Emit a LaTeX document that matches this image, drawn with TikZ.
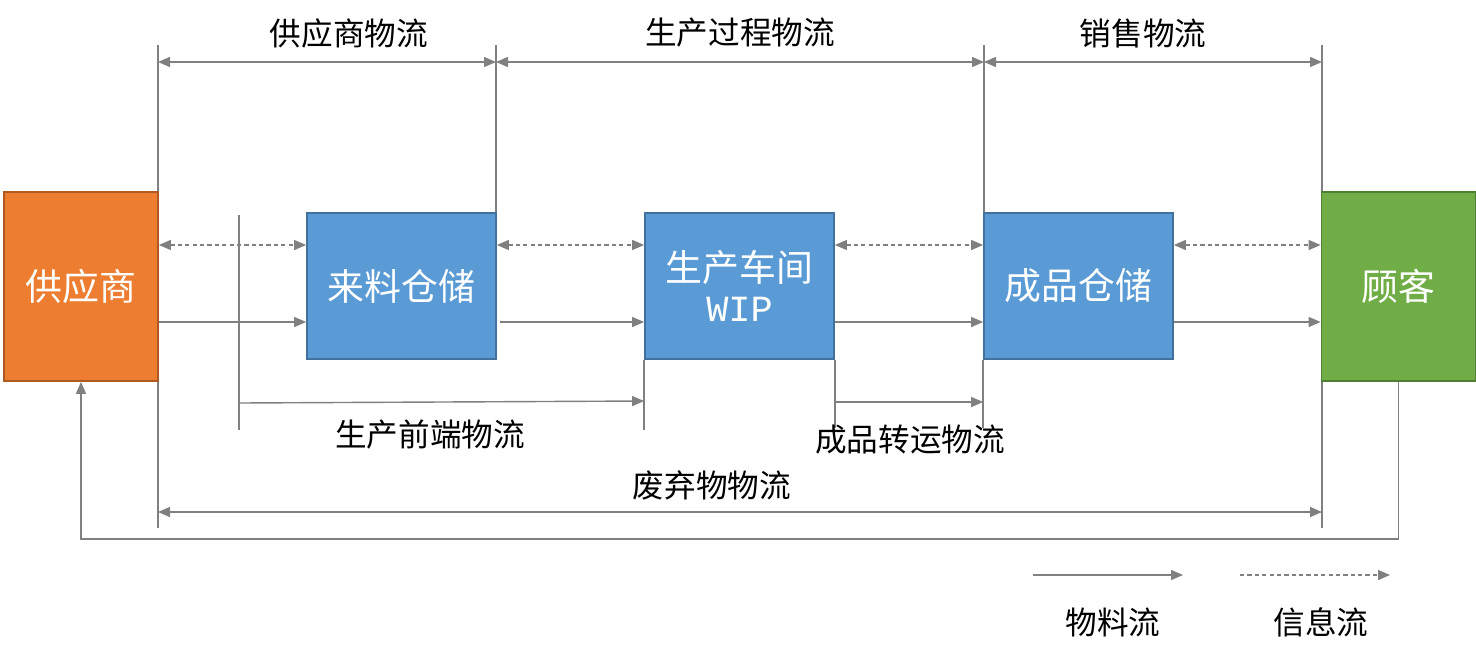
\documentclass[tikz,border=0pt]{standalone}
\usepackage{fontspec}
\newfontfamily\cjk{Noto Sans CJK SC}
\newfontfamily\latinmono{Liberation Mono}
\usetikzlibrary{arrows.meta,calc}
\definecolor{linegray}{HTML}{808080}
\definecolor{suporange}{HTML}{ED7D31}
\definecolor{supedge}{HTML}{AE5A21}
\definecolor{boxblue}{HTML}{5B9BD5}
\definecolor{boxedge}{HTML}{41719C}
\definecolor{custgreen}{HTML}{70AD47}
\definecolor{custedge}{HTML}{507E32}
\tikzset{
    endbox/.style={draw, line width=1pt, minimum width=3.08cm, minimum height=3.78cm,
        text=white, font=\cjk\fontsize{21}{25}\selectfont, inner sep=0pt},
    storebox/.style={draw=boxedge, fill=boxblue, line width=1pt, minimum width=3.78cm,
        minimum height=2.92cm, text=white, align=center,
        font=\cjk\fontsize{21}{25}\selectfont, inner sep=0pt},
    flowlabel/.style={font=\cjk\fontsize{18}{20}\selectfont, text=black},
    bar/.style={draw=linegray, line width=0.8pt},
    flow/.style={bar, -{Triangle[length=0.24cm, width=0.2cm]}},
    span/.style={bar, {Triangle[length=0.24cm, width=0.2cm]}-{Triangle[length=0.24cm, width=0.2cm]}},
    info/.style={span, dash pattern=on 2.4pt off 1.8pt},
    infoone/.style={flow, dash pattern=on 2.4pt off 1.8pt}
}

\begin{document}
\begin{tikzpicture}[x=0.02cm, y=-0.02cm]
\useasboundingbox (0,0) rectangle (1476,660);

% main chain
\node[endbox, fill=suporange, draw=supedge] (supplier) at (81,286.5) {供应商};
\node[storebox] (rawwh) at (401.5,286) {来料仓储};
\node[storebox] (wip) at (739.5,286) {生产车间\\[-2pt]{\latinmono WIP}};
\node[storebox] (fgwh) at (1078.5,286) {成品仓储};
\node[endbox, fill=custgreen, draw=custedge] (customer) at (1398.5,286.5) {顾客};

% section marks at the top
\coordinate (topa) at (158,45);
\coordinate (topb) at (496,45);
\coordinate (topc) at (984,45);
\coordinate (topd) at (1322,45);
\draw[bar] (topa) -- (topa |- supplier.north);
\draw[bar] (topb) -- (topb |- rawwh.north);
\draw[bar] (topc) -- (topc |- fgwh.north);
\draw[bar] (topd) -- (topd |- customer.north);
\draw[span] (topa |- 0,62) -- (topb |- 0,62);
\draw[span] (topb |- 0,62) -- (topc |- 0,62);
\draw[span] (topc |- 0,62) -- (topd |- 0,62);
\node[flowlabel] (lsupply) at (349,33) {供应商物流};
\node[flowlabel] (lprocess) at (740,33) {生产过程物流};
\node[flowlabel] (lsales) at (1143,33) {销售物流};

% information flow
\draw[info] (supplier.east |- 0,245) -- (rawwh.west |- 0,245);
\draw[info] (rawwh.east |- 0,245) -- (wip.west |- 0,245);
\draw[info] (wip.east |- 0,245) -- (fgwh.west |- 0,245);
\draw[info] (fgwh.east |- 0,245) -- (customer.west |- 0,245);

% material flow
\draw[flow] (supplier.east |- 0,322) -- (rawwh.west |- 0,322);
\draw[flow] (500,322) -- (wip.west |- 0,322);
\draw[flow] (wip.east |- 0,322) -- (fgwh.west |- 0,322);
\draw[flow] (fgwh.east |- 0,322) -- (customer.west |- 0,322);

% front-end logistics
\coordinate (fronttop) at (239,215);
\coordinate (frontbot) at (239,430);
\draw[bar] (fronttop) -- (frontbot);
\draw[bar] (wip.south west) -- (wip.west |- 0,430);
\draw[flow] (239,403) -- (wip.west |- 0,401);
\node[flowlabel] (lfront) at (430,435) {生产前端物流};

% transfer of finished goods
\draw[bar] (wip.south east) -- (wip.east |- 0,428);
\draw[bar] (fgwh.south west) -- (fgwh.west |- 0,428);
\draw[flow] (wip.east |- 0,402) -- (fgwh.west |- 0,402);
\node[flowlabel] (ltransfer) at (910,440) {成品转运物流};

% waste logistics
\draw[bar] (topa |- supplier.south) -- (topa |- 0,528);
\draw[bar] (topd |- customer.south) -- (topd |- 0,528);
\draw[span] (topa |- 0,512) -- (topd |- 0,512);
\node[flowlabel] (lwaste) at (712,485) {废弃物物流};

% return path
\draw[flow] (customer.south) |- (supplier.south |- 0,539) -- (supplier.south);

% legend
\coordinate (mata) at (1033,575);
\coordinate (matb) at (1183,575);
\coordinate (infa) at (1240,575);
\coordinate (infb) at (1390,575);
\draw[flow] (mata) -- (matb);
\draw[infoone] (infa) -- (infb);
\node[flowlabel] (lmat) at (1113,622) {物料流};
\node[flowlabel] (linf) at (1321,622) {信息流};
\end{tikzpicture}
\end{document}
